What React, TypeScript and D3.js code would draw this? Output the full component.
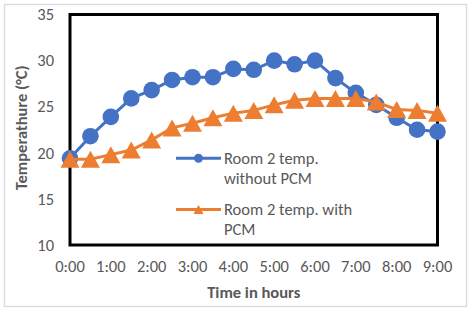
import React, { useEffect, useRef } from "react";
import * as d3 from "d3";

// hours since start, one reading every half hour
const hours = [0, 0.5, 1, 1.5, 2, 2.5, 3, 3.5, 4, 4.5, 5, 5.5, 6, 6.5, 7, 7.5, 8, 8.5, 9];
const withoutPCM = [19.4, 21.8, 23.9, 25.9, 26.8, 27.9, 28.2, 28.2, 29.1, 29.0, 30.0, 29.6, 30.0, 28.1, 26.5, 25.2, 23.8, 22.5, 22.3];
const withPCM = [19.3, 19.3, 19.8, 20.3, 21.4, 22.7, 23.2, 23.8, 24.3, 24.6, 25.2, 25.7, 25.9, 25.9, 25.9, 25.5, 24.7, 24.6, 24.3];
const xTicks = [0, 1, 2, 3, 4, 5, 6, 7, 8, 9];
const xTickLabels = ["0:00", "1:00", "2:00", "3:00", "4:00", "5:00", "6:00", "7:00", "8:00", "9:00"];
const yTicks = [10, 15, 20, 25, 30, 35];
const seriesNames = [
  ["Room 2 temp.", "without PCM"],
  ["Room 2 temp. with", "PCM"]
];

const BLUE = "#4472C4";
const ORANGE = "#ED7D31";
const TEXT = "#595959";
const FONT = "Calibri, Carlito, Lato, sans-serif";
const SIZE = "16.5px";

const triangle = (cx: number, cy: number, w: number, h: number) =>
  `M${cx},${cy - h / 2}L${cx + w / 2},${cy + h / 2}L${cx - w / 2},${cy + h / 2}Z`;

const App = () => {
  const ref = useRef<SVGSVGElement>(null);

  useEffect(() => {
    const width = 472;
    const height = 312;
    const svg = d3.select(ref.current);
    svg.selectAll("*").remove();

    const x = d3.scaleLinear().domain([0, 9]).range([70, 437.5]);
    const y = d3.scaleLinear().domain([10, 35]).range([245, 14.5]);

    // chart frame
    svg.append("rect")
      .attr("x", 4.5).attr("y", 4.5)
      .attr("width", width - 10).attr("height", height - 10)
      .attr("fill", "#fff")
      .attr("stroke", "#D9D9D9")
      .attr("stroke-width", 1.3);

    // plot area border
    svg.append("rect")
      .attr("x", x(0)).attr("y", y(35))
      .attr("width", x(9) - x(0)).attr("height", y(10) - y(35))
      .attr("fill", "none")
      .attr("stroke", "#000")
      .attr("stroke-width", 3);

    // y tick labels
    svg.append("g")
      .selectAll("text")
      .data(yTicks)
      .join("text")
      .attr("x", 54)
      .attr("y", d => y(d))
      .attr("dy", "0.35em")
      .attr("text-anchor", "end")
      .attr("fill", TEXT)
      .style("font", `${SIZE} ${FONT}`)
      .text(d => d);

    // x tick labels
    svg.append("g")
      .selectAll("text")
      .data(xTicks)
      .join("text")
      .attr("x", d => x(d))
      .attr("y", 272)
      .attr("text-anchor", "middle")
      .attr("fill", TEXT)
      .style("font", `${SIZE} ${FONT}`)
      .text((d, i) => xTickLabels[i]);

    // axis titles
    svg.append("text")
      .attr("x", (x(0) + x(9)) / 2)
      .attr("y", 298)
      .attr("text-anchor", "middle")
      .attr("fill", TEXT)
      .style("font", `bold ${SIZE} ${FONT}`)
      .text("Time in hours");

    svg.append("text")
      .attr("transform", `translate(27,${(y(10) + y(35)) / 2 - 2}) rotate(-90)`)
      .attr("text-anchor", "middle")
      .attr("fill", TEXT)
      .style("font", `bold ${SIZE} ${FONT}`)
      .text("Temperathure (°C)");

    const line = d3.line<number>()
      .x((d, i) => x(hours[i]))
      .y(d => y(d));

    // without PCM - circles
    svg.append("path")
      .datum(withoutPCM)
      .attr("fill", "none")
      .attr("stroke", BLUE)
      .attr("stroke-width", 3)
      .attr("d", line);

    svg.append("g")
      .selectAll("circle")
      .data(withoutPCM)
      .join("circle")
      .attr("cx", (d, i) => x(hours[i]))
      .attr("cy", d => y(d))
      .attr("r", 8.3)
      .attr("fill", BLUE);

    // with PCM - triangles
    svg.append("path")
      .datum(withPCM)
      .attr("fill", "none")
      .attr("stroke", ORANGE)
      .attr("stroke-width", 3)
      .attr("d", line);

    svg.append("g")
      .selectAll("path")
      .data(withPCM)
      .join("path")
      .attr("d", (d, i) => triangle(x(hours[i]), y(d), 19, 17))
      .attr("fill", ORANGE);

    // legend
    const legend = svg.append("g");
    const entries = [
      { color: BLUE, ly: 158.3, lines: seriesNames[0], circle: true },
      { color: ORANGE, ly: 209.5, lines: seriesNames[1], circle: false }
    ];
    entries.forEach(e => {
      legend.append("line")
        .attr("x1", 176).attr("x2", 221)
        .attr("y1", e.ly).attr("y2", e.ly)
        .attr("stroke", e.color)
        .attr("stroke-width", 3);
      if (e.circle) {
        legend.append("circle")
          .attr("cx", 198.5).attr("cy", e.ly).attr("r", 4.5)
          .attr("fill", e.color);
      } else {
        legend.append("path")
          .attr("d", triangle(198.5, e.ly, 10, 9))
          .attr("fill", e.color);
      }
      e.lines.forEach((t, k) => {
        legend.append("text")
          .attr("x", 224)
          .attr("y", e.ly + 5.5 + k * 19.8)
          .attr("fill", TEXT)
          .style("font", `${SIZE} ${FONT}`)
          .text(t);
      });
    });
  }, []);

  return (
    <svg
      ref={ref}
      width={472}
      height={312}
      style={{ position: "absolute", left: 0, top: 0, display: "block" }}
    />
  );
};

export default App;
